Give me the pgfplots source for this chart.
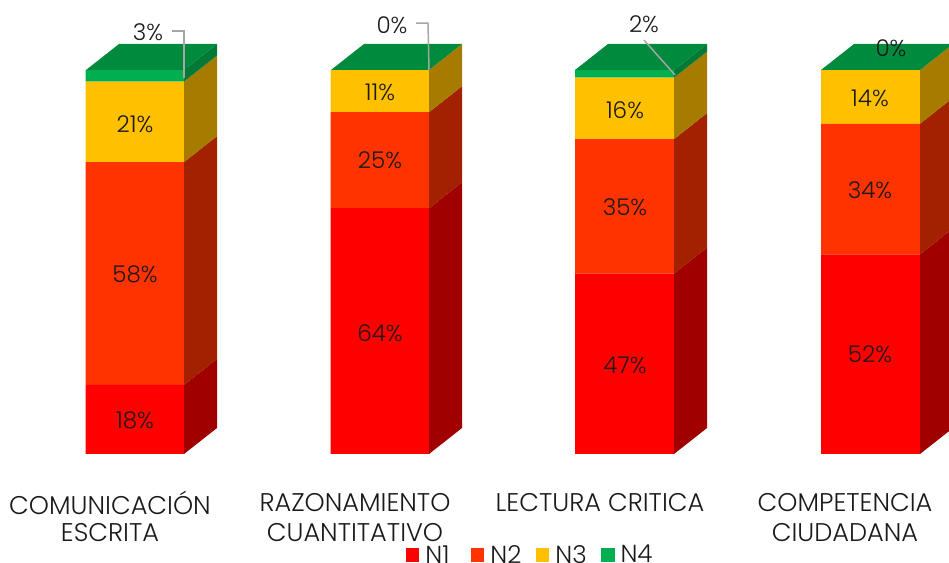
\documentclass[border=0pt]{standalone}
\usepackage{pgfplots}
\pgfplotsset{compat=1.18}
\usepackage{fontspec}
\setmainfont{Poppins}[UprightFont=* Light]
\definecolor{nA}{HTML}{FF0000}
\definecolor{nB}{HTML}{FF3300}
\definecolor{nC}{HTML}{FFC000}
\definecolor{nD}{HTML}{00B050}
\definecolor{sA}{HTML}{A00000}
\definecolor{sB}{HTML}{A32000}
\definecolor{sC}{HTML}{A67C00}
\definecolor{sD}{HTML}{007A35}
\definecolor{tD}{HTML}{008A3E}
\definecolor{txt}{HTML}{1A1A1A}
\definecolor{lead}{HTML}{A6A6A6}
\pgfplotsset{base/.style={
  anchor=south west, at={(0,0)}, scale only axis,
  width=711.75pt, height=422.25pt,
  xmin=0, xmax=949, ymin=-28.385, ymax=118.229,
  axis lines=none}}
\newcommand{\lab}[3]{\node[font=\fontsize{17.3}{17.3}\selectfont,text=txt,inner sep=0pt] at (axis cs:#1,#2) {#3};}
\newcommand{\cat}[3]{\node[font=\fontsize{19.2}{19.2}\selectfont,text=txt,inner sep=0pt] at (axis cs:#1,#2) {#3};}
\begin{document}
\begin{tikzpicture}
\path[use as bounding box] (0,0) rectangle (711.75pt,422.25pt);
\begin{axis}[base, ybar stacked, bar width=73.9pt,
  legend style={draw=none, fill=none, at={(axis cs:406,-28.95)}, anchor=south west,
    inner sep=0pt, outer sep=0pt, font=\fontsize{18.5}{18.5}\selectfont\color{txt},
    nodes={inner sep=0pt, text width=25pt, align=left},
    /tikz/every even column/.append style={column sep=9.3pt}},
  legend columns=4,
  legend image code/.code={\fill[#1] (0pt,-5.2pt) rectangle (10pt,5.2pt); \path (14.5pt,0pt);},
  ]
\addplot[fill=nA,draw=none] coordinates {(135,18) (380,64) (624.5,47) (870.5,52)};
\addplot[fill=nB,draw=none] coordinates {(135,58) (380,25) (624.5,35) (870.5,34)};
\addplot[fill=nC,draw=none] coordinates {(135,21) (380,11) (624.5,16) (870.5,14)};
\addplot[fill=nD,draw=none] coordinates {(135,3) (380,0) (624.5,2) (870.5,0)};
\legend{N1,N2,N3,N4}
\end{axis}
\begin{axis}[base]
% bar 1 sides
\addplot[fill=sA,draw=none] coordinates {(184,0) (217,6.77) (217,24.77) (184,18)} --cycle;
\addplot[fill=sB,draw=none] coordinates {(184,18) (217,24.77) (217,82.77) (184,76)} --cycle;
\addplot[fill=sC,draw=none] coordinates {(184,76) (217,82.77) (217,103.77) (184,97)} --cycle;
\addplot[fill=sD,draw=none] coordinates {(184,97) (217,103.77) (217,106.77) (184,100)} --cycle;
\addplot[fill=tD,draw=none] coordinates {(86,100) (119,106.77) (217,106.77) (184,100)} --cycle;
% bar 2 sides
\addplot[fill=sA,draw=none] coordinates {(429,0) (462,6.77) (462,70.77) (429,64)} --cycle;
\addplot[fill=sB,draw=none] coordinates {(429,64) (462,70.77) (462,95.77) (429,89)} --cycle;
\addplot[fill=sC,draw=none] coordinates {(429,89) (462,95.77) (462,106.77) (429,100)} --cycle;
\addplot[fill=tD,draw=none] coordinates {(331,100) (364,106.77) (462,106.77) (429,100)} --cycle;
% bar 3 sides
\addplot[fill=sA,draw=none] coordinates {(674,0) (707,6.77) (707,53.77) (674,47)} --cycle;
\addplot[fill=sB,draw=none] coordinates {(674,47) (707,53.77) (707,88.77) (674,82)} --cycle;
\addplot[fill=sC,draw=none] coordinates {(674,82) (707,88.77) (707,104.77) (674,98)} --cycle;
\addplot[fill=sD,draw=none] coordinates {(674,98) (707,104.77) (707,106.77) (674,100)} --cycle;
\addplot[fill=tD,draw=none] coordinates {(575,100) (608,106.77) (707,106.77) (674,100)} --cycle;
% bar 4 sides
\addplot[fill=sA,draw=none] coordinates {(920,0) (953,6.77) (953,58.77) (920,52)} --cycle;
\addplot[fill=sB,draw=none] coordinates {(920,52) (953,58.77) (953,92.77) (920,86)} --cycle;
\addplot[fill=sC,draw=none] coordinates {(920,86) (953,92.77) (953,106.77) (920,100)} --cycle;
\addplot[fill=tD,draw=none] coordinates {(821,100) (854,106.77) (953,106.77) (920,100)} --cycle;
% leaders
\addplot[lead,line width=1.1pt] coordinates {(172,110.1) (184,110.1) (184,98)};
\addplot[lead,line width=1.1pt] coordinates {(416,112.2) (428,112.2) (429,100)};
\addplot[lead,line width=1.1pt] coordinates {(644,107.8) (675,98.7)};
% value labels
\lab{148}{109.9}{3\%}\lab{135}{85.9}{21\%}\lab{135}{46.9}{58\%}\lab{135}{8.85}{18\%}
\lab{392}{111.7}{0\%}\lab{380}{94.3}{11\%}\lab{380}{76.6}{25\%}\lab{380}{31.5}{64\%}
\lab{644}{112}{2\%}\lab{625}{89.6}{16\%}\lab{625}{64.3}{35\%}\lab{625}{23.2}{47\%}
\lab{891}{105.7}{0\%}\lab{870}{92.7}{14\%}\lab{870}{68.75}{34\%}\lab{870}{26}{52\%}
% category labels
\cat{110}{-12.76}{COMUNICACIÓN}\cat{110}{-20.57}{ESCRITA}
\cat{355}{-12.76}{RAZONAMIENTO}\cat{355}{-20.57}{CUANTITATIVO}
\cat{600}{-12.76}{LECTURA CRITICA}
\cat{845}{-12.76}{COMPETENCIA}\cat{845}{-20.57}{CIUDADANA}
\end{axis}
\end{tikzpicture}
\end{document}
